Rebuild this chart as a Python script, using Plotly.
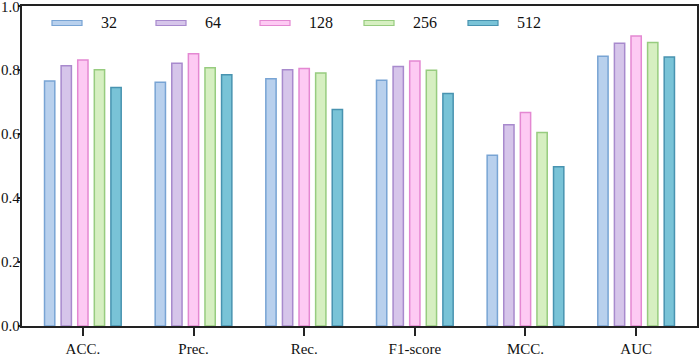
import plotly.graph_objects as go

categories = ["ACC.", "Prec.", "Rec.", "F1-score", "MCC.", "AUC"]
series_names = ["32", "64", "128", "256", "512"]
v32 = [0.766, 0.762, 0.773, 0.768, 0.534, 0.843]
v64 = [0.813, 0.821, 0.801, 0.811, 0.629, 0.884]
v128 = [0.831, 0.851, 0.805, 0.828, 0.667, 0.906]
v256 = [0.801, 0.807, 0.791, 0.799, 0.605, 0.886]
v512 = [0.745, 0.785, 0.677, 0.727, 0.498, 0.841]
y_ticks = [0.0, 0.2, 0.4, 0.6, 0.8, 1.0]

fills = ["#b8d0ed", "#d6c5ea", "#fdcaf3", "#d6efc1", "#79c3d7"]
edges = ["#78a4d4", "#a88acd", "#e488d2", "#97cc7f", "#4893b0"]
FONT = "Liberation Serif, Times New Roman, serif"

fig = go.Figure()
for name, vals, f, e in zip(series_names, [v32, v64, v128, v256, v512], fills, edges):
    fig.add_trace(go.Bar(
        x=list(range(len(categories))), y=vals, name=name,
        marker=dict(color=f, line=dict(color=e, width=1.5)),
        showlegend=False,
    ))

# legend drawn as swatches + text in paper coordinates
W, H = 699, 358
ml, mr, mt, mb = 22, 2, 6, 32
pw, ph = W - ml - mr, H - mt - mb
def px(x):
    return (x - ml) / pw
def py(y):
    return 1 - (y - mt) / ph

for i, (name, f, e) in enumerate(zip(series_names, fills, edges)):
    x0 = 52 + i * 104
    fig.add_shape(type="rect", xref="paper", yref="paper",
                  x0=px(x0), x1=px(x0 + 30), y0=py(25.5), y1=py(20.5),
                  fillcolor=f, line=dict(color=e, width=1.2))
    fig.add_annotation(xref="paper", yref="paper", x=px(x0 + 47), y=py(23),
                       text=name, showarrow=False, xanchor="left", yanchor="middle",
                       font=dict(family=FONT, size=16, color="#111"))

# y tick labels placed on the y scale, tight against the axis
for t in y_ticks:
    fig.add_annotation(xref="paper", yref="y", x=px(20.5), y=t,
                       text=f"{t:.1f}", showarrow=False, xanchor="right", yanchor="middle",
                       yshift=-1 if t == max(y_ticks) else 0,
                       font=dict(family=FONT, size=15, color="#111"),
                       borderpad=0)

fig.update_layout(
    width=W, height=H,
    margin=dict(l=ml, r=mr, t=mt, b=mb, autoexpand=False),
    paper_bgcolor="white", plot_bgcolor="white",
    barmode="group", bargap=0.25, bargroupgap=0.38,
    font=dict(family=FONT, size=15, color="#111"),
    xaxis=dict(
        tickmode="array", tickvals=list(range(len(categories))), ticktext=categories,
        range=[-0.55, len(categories) - 0.45], automargin=False,
        showline=True, linecolor="#222", linewidth=2, mirror=True,
        ticks="outside", ticklen=8, tickwidth=1.5, tickcolor="#222",
        showgrid=False, zeroline=False,
    ),
    yaxis=dict(
        range=[0, 1.0001], tickvals=y_ticks, showticklabels=False,
        automargin=False,
        showline=True, linecolor="#222", linewidth=2, mirror=True,
        ticks="outside", ticklen=2, tickwidth=1.5, tickcolor="#222",
        showgrid=False, zeroline=False,
    ),
)

fig.write_html(
    "out.html",
    config={"displayModeBar": False},
    post_script="document.body.style.margin='0';document.body.style.overflow='hidden';",
)
